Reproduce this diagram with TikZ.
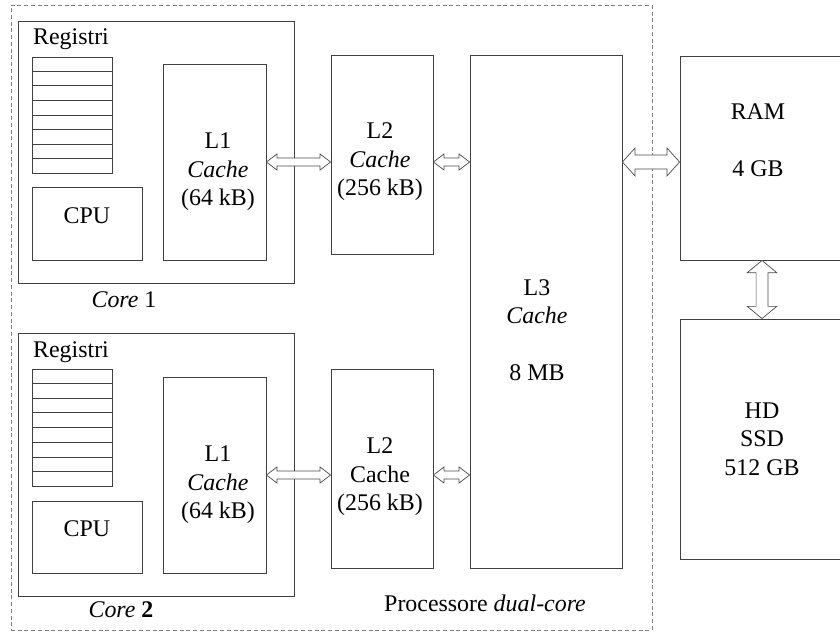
\documentclass[tikz,border=0pt]{standalone}
\usepackage{fontspec}
\setmainfont{Liberation Serif}
\usetikzlibrary{calc,fit,positioning}

% hollow double-headed bus arrows: #1 start, #2 end, shaft half-width, head half-width, head length
\newcommand\hbus[5]{\draw[bus] let \p1=(#1), \p2=(#2) in
  (\x1,\y1) -- (\x1+#5,\y1+#4) -- (\x1+#5,\y1+#3) -- (\x2-#5,\y1+#3) -- (\x2-#5,\y1+#4)
  -- (\x2,\y1) -- (\x2-#5,\y1-#4) -- (\x2-#5,\y1-#3) -- (\x1+#5,\y1-#3) -- (\x1+#5,\y1-#4) -- cycle;}
\newcommand\vbus[5]{\draw[bus] let \p1=(#1), \p2=(#2) in
  (\x1,\y1) -- (\x1+#4,\y1-#5) -- (\x1+#3,\y1-#5) -- (\x1+#3,\y2+#5) -- (\x1+#4,\y2+#5)
  -- (\x1,\y2) -- (\x1-#4,\y2+#5) -- (\x1-#3,\y2+#5) -- (\x1-#3,\y1-#5) -- (\x1-#4,\y1-#5) -- cycle;}

\begin{document}
\begin{tikzpicture}[x=0.025cm,y=-0.025cm,font=\fontsize{17}{20.2}\selectfont,
  box/.style={draw=black!75,line width=0.6pt,inner sep=0pt},
  txt/.style={align=center,inner sep=0pt},
  bus/.style={draw=black!70,fill=white,line width=0.5pt,line join=miter}]
  \path[use as bounding box,clip] (0,0) rectangle (840,633);
  % processor
  \node[box,draw=black!50,dashed,dash pattern=on 2.8pt off 2pt,fit={(11,5) (652,630)}] (proc) {};
  \node[txt] (proctxt) at (485,603) {Processore \textit{dual-core}};
  % core 1
  \node[box,fit={(18,21) (294,283)}] (core1) {};
  \node[txt] (reg1txt) at (71,39) {Registri};
  \node[box,fit={(32,57) (112,173)}] (reg1) {};
  \node[box,fit={(32,187) (142,260)}] (cpu1) {CPU};
  \node[box,fit={(163,64) (266,260)}] (l1a) {};
  \node[txt] (l1atxt) at (218,172) {L1\\ \textit{Cache}\\ (64 kB)};
  \node[txt] (core1txt) at (124,300) {\textit{Core} 1};
  % core 2
  \node[box,fit={(18,333) (294,596)}] (core2) {};
  \node[txt] (reg2txt) at (71,352) {Registri};
  \node[box,fit={(32,369) (112,486)}] (reg2) {};
  \node[box,fit={(32,501) (142,573)}] (cpu2) {CPU};
  \node[box,fit={(163,377) (266,573)}] (l1b) {};
  \node[txt] (l1btxt) at (218,485) {L1\\ \textit{Cache}\\ (64 kB)};
  \node[txt] (core2txt) at (121,610) {\textit{Core} \textbf{2}};
  \foreach \k in {1,...,7} {
    \draw[box] ($(reg1.north west)!\k/8!(reg1.south west)$) -- ($(reg1.north east)!\k/8!(reg1.south east)$);
    \draw[box] ($(reg2.north west)!\k/8!(reg2.south west)$) -- ($(reg2.north east)!\k/8!(reg2.south east)$);
  }
  % L2, L3
  \node[box,fit={(331,55) (433,254)}] (l2a) {};
  \node[txt] (l2atxt) at (380,162) {L2\\ \textit{Cache}\\ (256 kB)};
  \node[box,fit={(331,369) (433,568)}] (l2b) {};
  \node[txt] (l2btxt) at (380,477) {L2\\ Cache\\ (256 kB)};
  \node[box,fit={(470,55) (622,568)}] (l3) {};
  \node[txt] (l3txt) at (537,330) {L3\\ \textit{Cache}\\[20.2pt] 8 MB};
  % memory
  \node[box,fit={(680,56) (850,260)}] (ram) {};
  \node[txt] (ramtxt) at (758,140) {RAM\\[20.2pt] 4 GB};
  \node[box,fit={(680,319) (850,559)}] (hd) {};
  \node[txt] (hdtxt) at (762,439) {HD\\ SSD\\ 512 GB};
  % buses
  \hbus{l1a.east}{l2a.west |- l1a.east}{2.8pt}{5.7pt}{7.5pt}
  \hbus{l2a.east |- l1a.east}{l3.west |- l1a.east}{2.8pt}{5.7pt}{7.5pt}
  \hbus{l1b.east}{l2b.west |- l1b.east}{2.8pt}{5.7pt}{7.5pt}
  \hbus{l2b.east |- l1b.east}{l3.west |- l1b.east}{2.8pt}{5.7pt}{7.5pt}
  \hbus{l3.east |- l1a.east}{ram.west |- l1a.east}{5pt}{10pt}{9pt}
  \vbus{ram.south -| hdtxt}{hd.north -| hdtxt}{4.2pt}{10.5pt}{8.7pt}
\end{tikzpicture}
\end{document}
